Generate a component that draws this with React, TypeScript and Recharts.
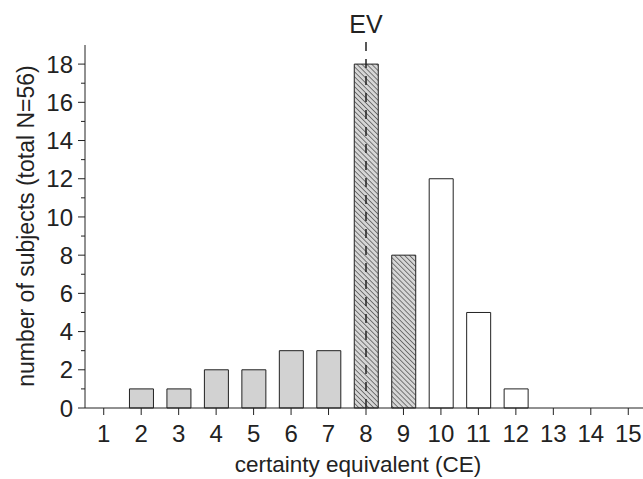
import React from 'react';
import { BarChart, Bar, XAxis, YAxis, Cell, ReferenceLine, Customized } from 'recharts';

const ceValues = [1, 2, 3, 4, 5, 6, 7, 8, 9, 10, 11, 12, 13, 14, 15];
const subjectCounts = [0, 1, 1, 2, 2, 3, 3, 18, 8, 12, 5, 1, 0, 0, 0];
const yTicks = [0, 1, 2, 3, 4, 5, 6, 7, 8, 9, 10, 11, 12, 13, 14, 15, 16, 17, 18];
const expectedValue = 8;
const hatchedRange = [8, 9];

const data = ceValues.map((ce, i) => ({ ce, n: subjectCounts[i] }));

const FONT = '"Liberation Sans", Arial, Helvetica, sans-serif';
const INK = '#222';

const fillFor = (ce: number) => {
  if (ce < hatchedRange[0]) return '#d2d2d2';
  if (ce <= hatchedRange[1]) return 'url(#hatch)';
  return '#ffffff';
};

const YTick = (props: any) => {
  const { x, y, payload } = props;
  const v = payload.value;
  const major = v % 2 === 0;
  return (
    <g>
      <line x1={x - (major ? 7 : 4)} x2={x} y1={y} y2={y} stroke={INK} strokeWidth={1} />
      {major && (
        <text x={x - 12} y={y} dy="0.36em" textAnchor="end" fontSize={24} fill={INK} fontFamily={FONT}>
          {v}
        </text>
      )}
    </g>
  );
};

const Titles = () => (
  <g fontFamily={FONT} fill={INK}>
    <text x={358} y={472} textAnchor="middle" fontSize={22.5}>
      certainty equivalent (CE)
    </text>
    <text x={34} y={226} textAnchor="middle" fontSize={23} transform="rotate(-90 34 226)">
      number of subjects (total N=56)
    </text>
  </g>
);

export default function App() {
  return (
    <div style={{ position: 'absolute', left: 0, top: 0, width: 643, height: 479, overflow: 'hidden', background: '#fff' }}>
      <BarChart width={650} height={479} data={data} margin={{ top: 45, right: 3, bottom: 0, left: 0 }}>
        <defs>
          <pattern id="hatch" patternUnits="userSpaceOnUse" width={3.5} height={3.5} patternTransform="rotate(-45)">
            <rect width={3.5} height={3.5} fill="#d6d6d6" />
            <line x1={0} y1={0} x2={0} y2={3.5} stroke="#4a4a4a" strokeWidth={1.4} />
          </pattern>
        </defs>
        <XAxis
          dataKey="ce"
          type="number"
          domain={[0.5, 15.5]}
          ticks={ceValues}
          interval={0}
          height={71}
          tickSize={7}
          tickMargin={10}
          stroke={INK}
          tick={{ fontSize: 24, fill: INK, fontFamily: FONT }}
          axisLine={{ stroke: INK }}
          tickLine={{ stroke: INK }}
        />
        <YAxis
          type="number"
          domain={[0, 19]}
          ticks={yTicks}
          interval={0}
          width={85}
          tickSize={0}
          tickMargin={0}
          tick={<YTick />}
          axisLine={{ stroke: INK }}
          tickLine={false}
        />
        <Bar dataKey="n" barSize={24} isAnimationActive={false}>
          {data.map((d) => (
            <Cell key={d.ce} fill={fillFor(d.ce)} stroke={d.n > 0 ? INK : 'none'} strokeWidth={1} />
          ))}
        </Bar>
        <ReferenceLine
          segment={[{ x: expectedValue, y: 0 }, { x: expectedValue, y: 19.35 }]}
          ifOverflow="visible"
          stroke={INK}
          strokeWidth={1.5}
          strokeDasharray="9 8"
          label={{ value: 'EV', position: 'top', fontSize: 25, fill: INK, fontFamily: FONT, offset: 5 }}
        />
        <Customized component={Titles} />
      </BarChart>
    </div>
  );
}
